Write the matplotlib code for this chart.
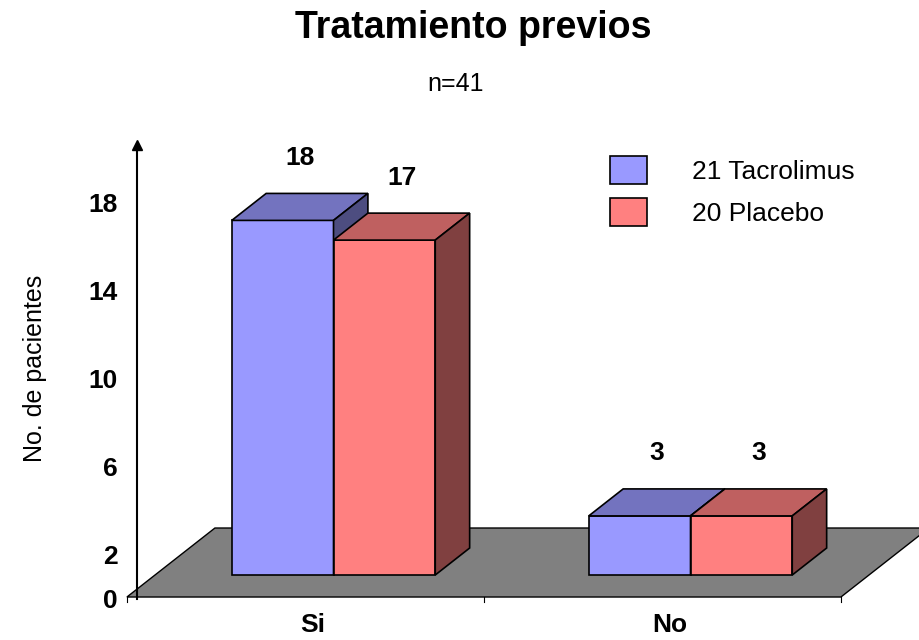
import matplotlib
matplotlib.use('Agg')
import matplotlib.pyplot as plt
from matplotlib.patches import Polygon, Patch

plt.rcParams['font.family'] = ['Liberation Sans', 'DejaVu Sans']

# datos
categorias = ['Si', 'No']
series = ['21 Tacrolimus', '20 Placebo']
tacrolimus = [18, 3]
placebo = [17, 3]
ticks_y = [0, 2, 6, 10, 14, 18]

# (frente, arriba, lado) para cada serie
colores = [('#9999ff', '#7373bf', '#4d4d80'),
           ('#ff8080', '#bf6060', '#804040')]

W, H = 919, 640
fig = plt.figure(figsize=(W / 100, H / 100), dpi=100)

# escala de las barras: px por categoria, px por paciente
SX, SY = 357.0, 19.7
X0, Y0 = 333.5, 575.0   # centro de "Si" y base de las barras
ax = fig.add_axes([0, 0, 1, 1])
ax.set_xlim(-X0 / SX, (W - X0) / SX)
ax.set_ylim(-(H - Y0) / SY, Y0 / SY)
ax.axis('off')

# profundidad oblicua (fondo completo del piso)
DX, DY = 88 / SX, 69 / SY
def proy(x, y, z):
    return (x + z * DX, y + z * DY)

z_frente, z_fondo = -0.319, 0.681   # piso
z_barra = 0.391                     # fondo de las barras
ancho = 0.285

# piso gris
piso = [proy(-0.5, 0, z_frente), proy(1.5, 0, z_frente),
        proy(1.5, 0, z_fondo), proy(-0.5, 0, z_fondo)]
ax.add_patch(Polygon(piso, closed=True, facecolor='#808080',
                     edgecolor='black', lw=1.0, zorder=1))

# marcas del eje de categorias
for xb in [-0.5, 0.5, 1.5]:
    x, y = proy(xb, 0, z_frente)
    ax.plot([x, x], [y, y - 5 / SY], color='black', lw=0.8, zorder=2)

def caja(x0, h, cols):
    x1 = x0 + ancho
    frente = [(x0, 0), (x1, 0), (x1, h), (x0, h)]
    arriba = [proy(x0, h, 0), proy(x1, h, 0), proy(x1, h, z_barra), proy(x0, h, z_barra)]
    lado = [proy(x1, 0, 0), proy(x1, 0, z_barra), proy(x1, h, z_barra), proy(x1, h, 0)]
    for pts, c in zip([frente, arriba, lado], cols):
        ax.add_patch(Polygon(pts, closed=True, facecolor=c, edgecolor='black',
                             lw=1.2, joinstyle='miter', zorder=3))
    # etiqueta del valor
    xc = x0 + ancho / 2 + z_barra * DX / 2
    ax.text(xc, h + z_barra * DY + 1.8, str(h), ha='center', va='center',
            fontsize=19, fontweight='bold', zorder=4)

for i, cat in enumerate(categorias):
    caja(i - ancho, tacrolimus[i], colores[0])
    caja(i, placebo[i], colores[1])
    x, y = proy(i + 0.02, 0, z_frente)
    ax.text(x, y - 28 / SY, cat, ha='center', va='center',
            fontsize=19, fontweight='bold')

# eje vertical con flecha
ay = fig.add_axes([137 / W, (H - 599) / H, 0.001, (599 - 145) / H])
ay.set_ylim(0, (599 - 145) / 22.0)
ay.patch.set_visible(False)
for s in ['top', 'right', 'bottom']:
    ay.spines[s].set_visible(False)
ay.spines['left'].set_linewidth(1.5)
ay.set_xticks([])
ay.set_yticks(ticks_y)
ay.set_yticklabels([str(t) for t in ticks_y], fontsize=19, fontweight='bold')
ay.tick_params(axis='y', length=0, pad=13.7)
ay.plot(0, 1, marker='^', ms=7, color='black', transform=ay.transAxes, clip_on=False)

fig.text(35 / W, 1 - 368 / H, 'No. de pacientes', rotation=90,
         ha='center', va='center', fontsize=18)
fig.text(473 / W, 1 - 28 / H, 'Tratamiento previos', ha='center', va='center',
         fontsize=27, fontweight='bold')
fig.text(456 / W, 1 - 84 / H, 'n=41', ha='center', va='center', fontsize=18)

handles = [Patch(facecolor=colores[k][0], edgecolor='black', lw=1.2) for k in range(2)]
fig.legend(handles, series, loc='upper left', bbox_to_anchor=(610 / W, 1 - 156 / H),
           frameon=False, fontsize=19, handlelength=1.4, handleheight=1.25,
           handletextpad=1.7, labelspacing=0.55, borderpad=0, borderaxespad=0)

fig.savefig('out.png', dpi=100)
